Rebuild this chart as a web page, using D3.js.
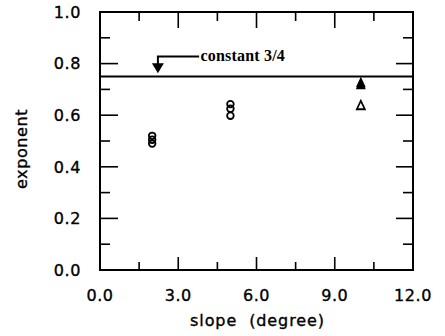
<!DOCTYPE html>
<html>
<head>
<meta charset="utf-8">
<script src="https://cdn.jsdelivr.net/npm/d3@7"></script>
<style>
  body { margin: 0; background: #fff; }
  svg { display: block; }
</style>
</head>
<body>
<div id="chart"></div>
<script>
// values
const circleSlope = [2, 2, 2, 5, 5, 5];
const circleExp = [0.52, 0.505, 0.49, 0.643, 0.625, 0.598];
const filledSlope = [10, 10];
const filledExp = [0.722, 0.714];
const openSlope = [10];
const openExp = [0.634];
const constantLine = 0.75;
const xTicks = [0, 3, 6, 9, 12];
const yTicks = [0, 0.2, 0.4, 0.6, 0.8, 1.0];

const width = 445, height = 336;
const margin = { left: 100, right: 32, top: 12, bottom: 66 };

const svg = d3.select('#chart').append('svg')
  .attr('width', width).attr('height', height);

const x = d3.scaleLinear().domain([0, 12]).range([margin.left, width - margin.right]);
const y = d3.scaleLinear().domain([0, 1]).range([height - margin.bottom, margin.top]);

const font = 'DejaVu Sans, sans-serif';

// frame
svg.append('rect')
  .attr('x', x(0)).attr('y', y(1))
  .attr('width', x(12) - x(0)).attr('height', y(0) - y(1))
  .attr('fill', 'none').attr('stroke', '#000').attr('stroke-width', 2);

// inward ticks, major + minor
const tickG = svg.append('g').attr('stroke', '#000').attr('stroke-width', 1.6);
d3.range(0, 12.01, 1.5).forEach(v => {
  const major = Math.abs(v % 3) < 1e-6;
  if (v === 0 || v === 12) return;
  tickG.append('line').attr('x1', x(v)).attr('x2', x(v))
    .attr('y1', y(0)).attr('y2', y(0) - (major ? 13 : 8));
  tickG.append('line').attr('x1', x(v)).attr('x2', x(v))
    .attr('y1', y(1)).attr('y2', y(1) + (major ? 16 : 9));
});
d3.range(0, 1.001, 0.1).forEach(v => {
  const major = Math.round(v * 10) % 2 === 0;
  if (v < 0.01 || v > 0.99) return;
  tickG.append('line').attr('y1', y(v)).attr('y2', y(v))
    .attr('x1', x(0)).attr('x2', x(0) + (major ? 18 : 10));
  tickG.append('line').attr('y1', y(v)).attr('y2', y(v))
    .attr('x1', x(12)).attr('x2', x(12) - (major ? 17 : 10));
});

// text style helper
const label = sel => sel
  .style('font-family', font).style('font-size', '16px')
  .style('letter-spacing', '0.6px')
  .attr('stroke', '#000').attr('stroke-width', 0.35)
  .style('white-space', 'pre');

// tick labels
svg.append('g').selectAll('text').data(xTicks).join('text')
  .attr('x', d => x(d)).attr('y', y(0) + 31)
  .attr('text-anchor', 'middle')
  .call(label)
  .text(d => d.toFixed(1));
svg.append('g').selectAll('text').data(yTicks).join('text')
  .attr('x', 81).attr('y', d => y(d)).attr('dy', '0.36em')
  .attr('text-anchor', 'end')
  .call(label)
  .text(d => d.toFixed(1));

// axis titles
svg.append('text')
  .attr('x', (x(0) + x(12)) / 2 + 1).attr('y', 326)
  .attr('text-anchor', 'middle')
  .call(label).style('letter-spacing', '0.9px')
  .text('slope  (degree)');
svg.append('text')
  .attr('transform', `translate(27,${(y(0) + y(1)) / 2 + 8}) rotate(-90)`)
  .attr('text-anchor', 'middle')
  .call(label)
  .text('exponent');

// constant 3/4 line
svg.append('line')
  .attr('x1', x(0)).attr('x2', x(12))
  .attr('y1', y(constantLine)).attr('y2', y(constantLine))
  .attr('stroke', '#000').attr('stroke-width', 1.8);

// annotation arrow
const ax = x(2.22), ayTop = y(0.828), ayTip = y(0.763);
svg.append('path')
  .attr('d', `M${x(3.8)},${ayTop}H${ax}V${ayTip - 8}`)
  .attr('fill', 'none').attr('stroke', '#000').attr('stroke-width', 2);
svg.append('path')
  .attr('d', `M${ax - 6},${ayTip - 10}L${ax + 6},${ayTip - 10}L${ax},${ayTip}Z`)
  .attr('fill', '#000');
svg.append('text')
  .attr('x', x(3.85)).attr('y', ayTop + 5)
  .style('font-family', 'Liberation Serif, serif').style('font-size', '16px')
  .style('font-weight', 'bold').style('letter-spacing', '0.2px')
  .text('constant 3/4');

// data: open circles
svg.append('g').selectAll('circle').data(circleSlope.map((s, i) => [s, circleExp[i]])).join('circle')
  .attr('cx', d => x(d[0])).attr('cy', d => y(d[1])).attr('r', 3.3)
  .attr('fill', 'none').attr('stroke', '#000').attr('stroke-width', 1.8);

// triangles
const tri = d3.symbol().type(d3.symbolTriangle).size(34);
svg.append('g').selectAll('path').data(openSlope.map((s, i) => [s, openExp[i]])).join('path')
  .attr('d', tri).attr('transform', d => `translate(${x(d[0])},${y(d[1])}) scale(0.9,1.1)`)
  .attr('fill', '#fff').attr('stroke', '#000').attr('stroke-width', 1.8);
svg.append('g').selectAll('path').data(filledSlope.map((s, i) => [s, filledExp[i]])).join('path')
  .attr('d', tri).attr('transform', d => `translate(${x(d[0])},${y(d[1])}) scale(0.9,1.1)`)
  .attr('fill', '#000').attr('stroke', '#000').attr('stroke-width', 1.2);
</script>
</body>
</html>
